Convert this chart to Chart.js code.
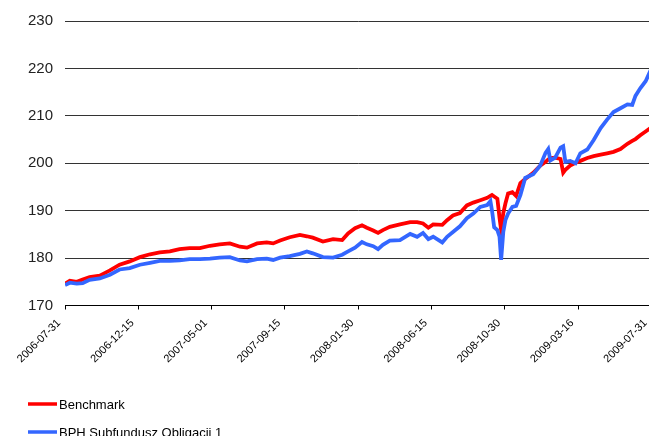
<!DOCTYPE html>
<html>
<head>
<meta charset="utf-8">
<script src="https://cdn.jsdelivr.net/npm/chart.js@4/dist/chart.umd.min.js"></script>
<style>
  html, body { margin: 0; padding: 0; background: #fff; overflow: hidden; }
  #wrap { position: absolute; left: 0; top: 0; width: 656px; height: 436px; }
</style>
</head>
<body>
<div id="wrap"><canvas id="chart"></canvas></div>
<script>
// days since 2006-07-31 for each sample
const days = [0, 9, 22, 33, 46, 65, 84, 102, 121, 140, 159, 177, 196, 214, 233, 252, 271, 289, 308, 327,
    340, 359, 377, 389, 402, 420, 439, 452, 463, 482, 501, 518, 529, 542, 555, 564, 576, 585, 594, 607,
    626, 645, 658, 669, 679, 688, 705, 714, 725, 738, 751, 763, 776, 789, 795, 798, 802, 808, 812, 815,
    819, 823, 828, 836, 843, 851, 860, 875, 888, 898, 903, 907, 916, 926, 931, 935, 944, 954, 963, 976,
    988, 1001, 1013, 1025, 1038, 1051, 1060, 1066, 1075, 1085, 1096];

const benchmark = [174.6, 175.2, 175.0, 175.5, 176.0, 176.3, 177.4, 178.6, 179.3, 180.2, 180.8, 181.2, 181.4, 181.9, 182.1, 182.1, 182.6, 182.9, 183.1, 182.4,
    182.2, 183.1, 183.3, 183.1, 183.7, 184.4, 184.9, 184.6, 184.3, 183.5, 184.0, 183.8, 185.2, 186.3, 186.9, 186.4, 185.8, 185.3, 185.9, 186.6,
    187.1, 187.6, 187.6, 187.3, 186.4, 187.1, 187.0, 188.0, 189.0, 189.5, 191.1, 191.7, 192.2, 192.7, 193.1, 193.3, 193.0, 192.5, 188.5, 185.9,
    189.5, 191.5, 193.6, 193.9, 193.1, 195.8, 196.7, 198.0, 199.5, 200.3, 200.8, 201.1, 201.2, 200.9, 198.0, 198.6, 199.5, 200.1, 200.5, 201.1,
    201.5, 201.8, 202.1, 202.4, 203.0, 204.1, 204.7, 205.1, 205.9, 206.7, 207.6];

const fund = [174.3, 174.8, 174.6, 174.7, 175.4, 175.7, 176.5, 177.6, 177.9, 178.6, 179.0, 179.4, 179.4, 179.5, 179.8, 179.8, 179.9, 180.1, 180.2, 179.5,
    179.3, 179.8, 179.9, 179.6, 180.1, 180.4, 180.9, 181.4, 181.0, 180.2, 180.1, 180.7, 181.4, 182.2, 183.4, 182.9, 182.5, 181.9, 182.8, 183.7,
    183.8, 185.1, 184.5, 185.3, 184.0, 184.5, 183.3, 184.5, 185.5, 186.7, 188.4, 189.4, 190.8, 191.2, 192.0, 190.0, 186.5, 185.9, 184.5, 179.6,
    185.5, 188.0, 189.4, 190.8, 191.0, 193.3, 196.9, 197.7, 199.5, 202.2, 203.0, 200.6, 201.2, 203.3, 203.6, 200.3, 200.5, 200.0, 202.1, 202.9,
    204.9, 207.4, 209.2, 210.8, 211.6, 212.4, 212.3, 214.2, 215.8, 217.3, 220.0];

const tickLabels = ['2006-07-31', '2006-12-15', '2007-05-01', '2007-09-15', '2008-01-30',
    '2008-06-15', '2008-10-30', '2009-03-16', '2009-07-31'];

const seriesNames = ['Benchmark', 'BPH Subfundusz Obligacji 1'];
const seriesColors = ['#ff0000', '#3366ff'];

const start = Date.UTC(2006, 6, 31);
const tickDays = tickLabels.map(s => {
    const p = s.split('-').map(Number);
    return Math.round((Date.UTC(p[0], p[1] - 1, p[2]) - start) / 86400000);
});

function toPoints(values) {
    return values.map((v, i) => ({ x: days[i], y: v }));
}

// two-row legend under the axis labels
const legendRows = {
    id: 'legendRows',
    afterDraw(chart) {
        const ctx = chart.ctx;
        ctx.save();
        chart.data.datasets.forEach((ds, i) => {
            const y = 404 + i * 28;
            ctx.strokeStyle = ds.borderColor;
            ctx.lineWidth = 3.5;
            ctx.beginPath();
            ctx.moveTo(28, y);
            ctx.lineTo(57, y);
            ctx.stroke();
            ctx.fillStyle = '#000';
            ctx.font = '13px "Liberation Sans", Arial, sans-serif';
            ctx.textBaseline = 'middle';
            ctx.fillText(ds.label, 59, y + 1);
        });
        ctx.restore();
    }
};

new Chart(document.getElementById('chart'), {
    type: 'line',
    data: {
        datasets: [{
            label: seriesNames[0],
            data: toPoints(benchmark),
            borderColor: seriesColors[0],
            borderWidth: 3.8,
            pointRadius: 0,
            order: 1
        }, {
            label: seriesNames[1],
            data: toPoints(fund),
            borderColor: seriesColors[1],
            borderWidth: 3.8,
            pointRadius: 0,
            order: 0
        }]
    },
    options: {
        responsive: true,
        maintainAspectRatio: false,
        animation: false,
        layout: { padding: { top: 18, right: 4.5, bottom: 70.5, left: 0 } },
        plugins: {
            legend: { display: false },
            tooltip: { enabled: false }
        },
        scales: {
            x: {
                type: 'linear',
                min: 0,
                max: tickDays[tickDays.length - 1],
                afterBuildTicks: axis => { axis.ticks = tickDays.map(v => ({ value: v })); },
                afterFit: axis => { axis.height = 60; axis.paddingLeft = 0; axis.paddingRight = 0; },
                grid: { drawOnChartArea: false, color: '#000', tickLength: 4 },
                border: { color: '#000', width: 1 },
                ticks: {
                    autoSkip: false,
                    minRotation: 45,
                    maxRotation: 45,
                    padding: 7,
                    labelOffset: -6,
                    color: '#000',
                    font: { family: '"Liberation Sans", Arial, sans-serif', size: 11 },
                    callback: (v, i) => tickLabels[i]
                }
            },
            y: {
                min: 170,
                max: 230,
                afterFit: axis => { axis.width = 65; },
                grid: { color: '#333', drawTicks: false },
                border: { display: false },
                ticks: {
                    stepSize: 10,
                    padding: 12,
                    color: '#222',
                    font: { family: '"Liberation Sans", Arial, sans-serif', size: 15 }
                }
            }
        }
    },
    plugins: [legendRows]
});
</script>
</body>
</html>
